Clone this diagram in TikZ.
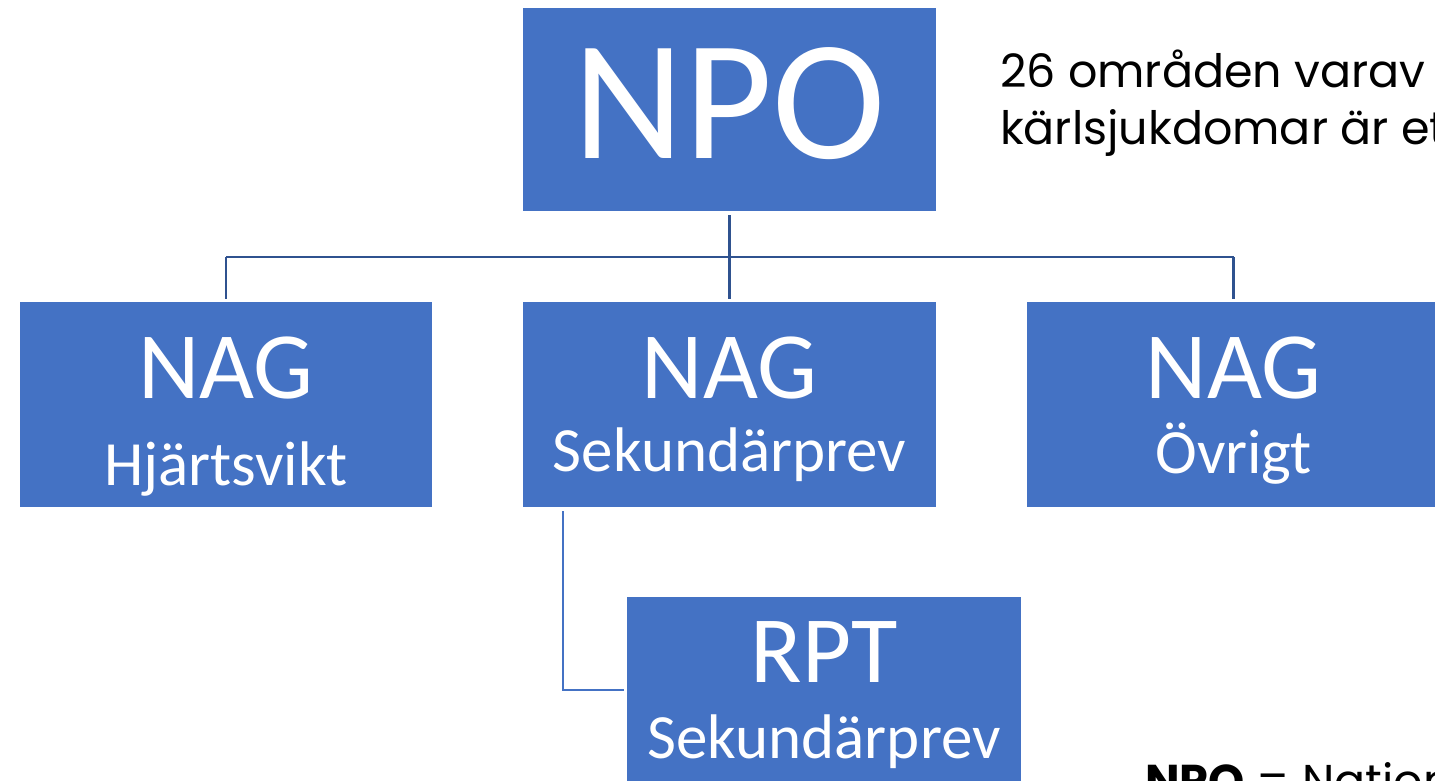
\documentclass[tikz,border=0pt]{standalone}
\usepackage{fontspec}
\setmainfont{Carlito}
\newfontfamily\gothic{Poppins}
\definecolor{boxblue}{HTML}{4472C4}
\definecolor{linedark}{HTML}{2F528F}
\begin{document}
\begin{tikzpicture}[x=1pt,y=-1pt,
  orgbox/.style={fill=boxblue,draw=none,inner sep=0pt},
  conn/.style={draw=linedark,line width=2.5pt},
  connb/.style={draw=boxblue,line width=2.5pt},
  big/.style={text=white,anchor=base,inner sep=0pt,font=\fontsize{95}{95}\selectfont},
  small/.style={text=white,anchor=base,inner sep=0pt,font=\fontsize{63}{63}\selectfont},
  note/.style={anchor=base west,inner sep=0pt,font=\gothic\fontsize{46}{46}\selectfont}]
\useasboundingbox (0,0) rectangle (1435,781);
\clip (0,0) rectangle (1435,781);
% boxes
\node[orgbox,minimum width=413pt,minimum height=203pt] (npo) at (729.5,109.5) {};
\node[orgbox,minimum width=412pt,minimum height=205pt] (hj) at (226,404.5) {};
\node[orgbox,minimum width=413pt,minimum height=205pt] (sek) at (729.5,404.5) {};
\node[orgbox,minimum width=413pt,minimum height=205pt] (ovr) at (1233.5,404.5) {};
\node[orgbox,minimum width=394pt,minimum height=200pt] (rpt) at (824,697) {};
% connectors
\coordinate (j0) at (729.5,257);
\coordinate (jl) at (226,257);
\coordinate (jr) at (1233.5,257);
\draw[conn] ([yshift=-4pt]npo.south) -- (j0);
\draw[conn] (jl) -- (jr);
\draw[conn] (jl) -- ([yshift=3pt]hj.north);
\draw[conn] (j0) -- ([yshift=3pt]sek.north);
\draw[conn] (jr) -- ([yshift=3pt]ovr.north);
\coordinate (rk) at (563,690);
\draw[connb] ([yshift=-4pt]sek.south -| rk) -- (rk) -- ([xshift=-3pt]rpt.west |- rk);
% texts
\node[text=white,anchor=base,inner sep=0pt,font=\fontsize{171}{171}\selectfont] (tnpo) at (729.5,158) {NPO};
\node[big] (t1) at (226,398) {NAG};
\node[small] (t1b) at (226,485) {Hjärtsvikt};
\node[big] (t2) at (729.5,398) {NAG};
\node[small] (t2b) at (729.5,471) {Sekundärprev};
\node[big] (t3) at (1233.5,398) {NAG};
\node[small] (t3b) at (1233.5,473) {Övrigt};
\node[big] (t4) at (824,682) {RPT};
\node[small] (t4b) at (824,758) {Sekundärprev};
\node[note] (n1) at (1000,88) {26 områden varav};
\node[note] (n2) at (1000,145) {kärlsjukdomar är ett};
\node[note] (n3) at (1145,797) {\textbf{NPO} = Nationellt};
\end{tikzpicture}
\end{document}
